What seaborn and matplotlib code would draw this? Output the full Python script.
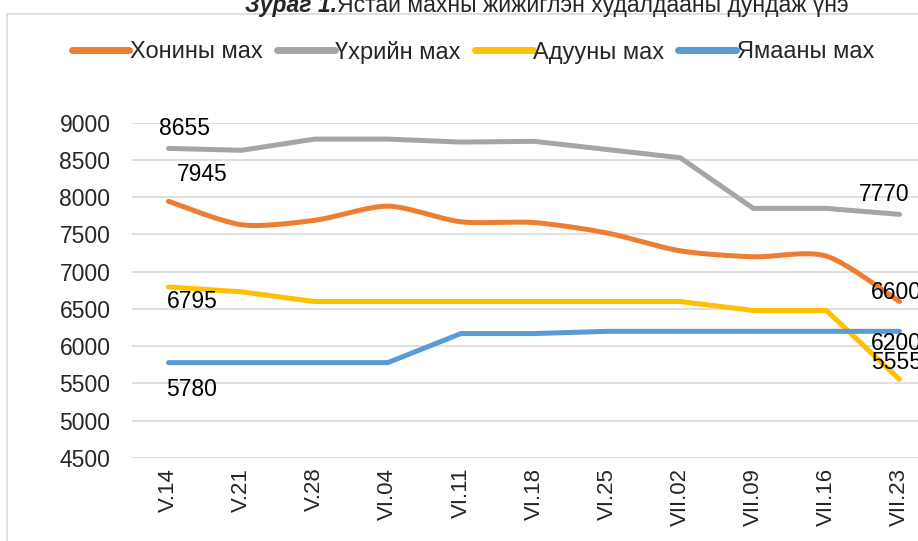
import numpy as np
import pandas as pd
import matplotlib
matplotlib.use("Agg")
import matplotlib.pyplot as plt
import seaborn as sns
from matplotlib.patches import Rectangle

# ── DATA ──────────────────────────────────────────────────────────
dates = ["V.14", "V.21", "V.28", "VI.04", "VI.11", "VI.18",
         "VI.25", "VII.02", "VII.09", "VII.16", "VII.23"]
sheep  = [7945, 7630, 7690, 7880, 7670, 7660, 7520, 7280, 7200, 7210, 6600]
beef   = [8655, 8630, 8780, 8780, 8740, 8750, 8640, 8530, 7850, 7850, 7770]
horse  = [6795, 6730, 6600, 6600, 6600, 6600, 6600, 6600, 6480, 6480, 5555]
goat   = [5780, 5780, 5780, 5780, 6170, 6170, 6200, 6200, 6200, 6200, 6200]
names  = ["Хонины мах", "Үхрийн мах", "Адууны мах", "Ямааны мах"]
colors = ["#ED7D31", "#A5A5A5", "#FFC000", "#5B9BD5"]
title_bold = "Зураг 1."
title_rest = "Ястай махны жижиглэн худалдааны дундаж үнэ"

sns.set_theme(style="white")
plt.rcParams["font.family"] = ["Liberation Sans", "DejaVu Sans"]

fig = plt.figure(figsize=(9.18, 5.41), dpi=100)
ax = fig.add_axes([132 / 918, 1 - 458 / 541, 804 / 918, (458 - 122.7) / 541])

x = np.arange(len(dates))


def smooth(xs, ys, n=20):
    # Catmull-Rom style curve through the points (Excel "smoothed line")
    xs, ys = np.asarray(xs, float), np.asarray(ys, float)
    px = np.concatenate([[xs[0]], xs, [xs[-1]]])
    py = np.concatenate([[ys[0]], ys, [ys[-1]]])
    ox, oy = [], []
    for i in range(1, len(px) - 2):
        t = np.linspace(0, 1, n, endpoint=False)
        for arr, out in ((px, ox), (py, oy)):
            p0, p1, p2, p3 = arr[i - 1], arr[i], arr[i + 1], arr[i + 2]
            m1 = (p2 - p0) / 2 * 0.8
            m2 = (p3 - p1) / 2 * 0.8
            h00 = 2 * t**3 - 3 * t**2 + 1
            h10 = t**3 - 2 * t**2 + t
            h01 = -2 * t**3 + 3 * t**2
            h11 = t**3 - t**2
            out.extend(h00 * p1 + h10 * m1 + h01 * p2 + h11 * m2)
    ox.append(xs[-1]); oy.append(ys[-1])
    return np.array(ox), np.array(oy)


lw = 3.6
sx, sy = smooth(x, sheep)
sns.lineplot(x=sx, y=sy, ax=ax, color=colors[0], lw=lw, label=names[0],
             sort=False, solid_capstyle="round")
for vals, name, col in zip([beef, horse, goat], names[1:], colors[1:]):
    sns.lineplot(x=x, y=vals, ax=ax, color=col, lw=lw, label=name,
                 solid_capstyle="round", solid_joinstyle="round")

ax.set_xlim(-0.5, len(dates) - 0.5)
ax.set_ylim(4500, 9000)
ax.set_yticks(np.arange(4500, 9001, 500))
ax.set_xticks(x)
ax.set_xticklabels(dates, rotation=90, fontsize=16)
ax.tick_params(axis="y", labelsize=16.5, pad=15.5, length=0)
ax.tick_params(axis="x", pad=7, length=0)
ax.grid(axis="y", color="#D9D9D9", lw=1.2)
ax.grid(axis="x", visible=False)
for s in ax.spines.values():
    s.set_visible(False)

# data labels (first / last points)
labels = [
    (0, beef[0], 16, 20), (0, sheep[0], 34, 27), (0, horse[0], 24, -15),
    (0, goat[0], 23, -27), (10, beef[-1], -15, 20), (10, sheep[-1], -3, 9),
    (10, goat[-1], -3, -12), (10, horse[-1], -3, 17),
]
for xi, v, dx, dy in labels:
    ax.annotate(f"{v}", (xi, v), xytext=(dx, dy), textcoords="offset pixels",
                ha="center", va="center", fontsize=16.5, color="black",
                annotation_clip=False)

leg = ax.legend(loc="center", bbox_to_anchor=(0.515, 1 - 52 / 541),
                bbox_transform=fig.transFigure, ncol=4, frameon=False,
                fontsize=17, handlelength=2.45, handletextpad=0.02,
                columnspacing=0.6)
for h in leg.get_lines():
    h.set_linewidth(5)
    h.set_solid_capstyle("round")

# title (partly cut off by the top edge, like the source)
t1 = fig.text(245 / 918, 1 - 12 / 541, title_bold, fontsize=16.5,
              fontweight="bold", fontstyle="italic", ha="left", va="baseline")
fig.canvas.draw()
bb = t1.get_window_extent()
fig.text(bb.x1 / 918, 1 - 12 / 541, title_rest, fontsize=16.5,
         ha="left", va="baseline")

# chart-area border
fig.patches.append(Rectangle((7 / 918, -0.1), 1.2, 1 - 14 / 541 + 0.1,
                             transform=fig.transFigure, fill=False,
                             edgecolor="#D9D9D9", lw=1.2))

fig.savefig("out.png", dpi=100)
